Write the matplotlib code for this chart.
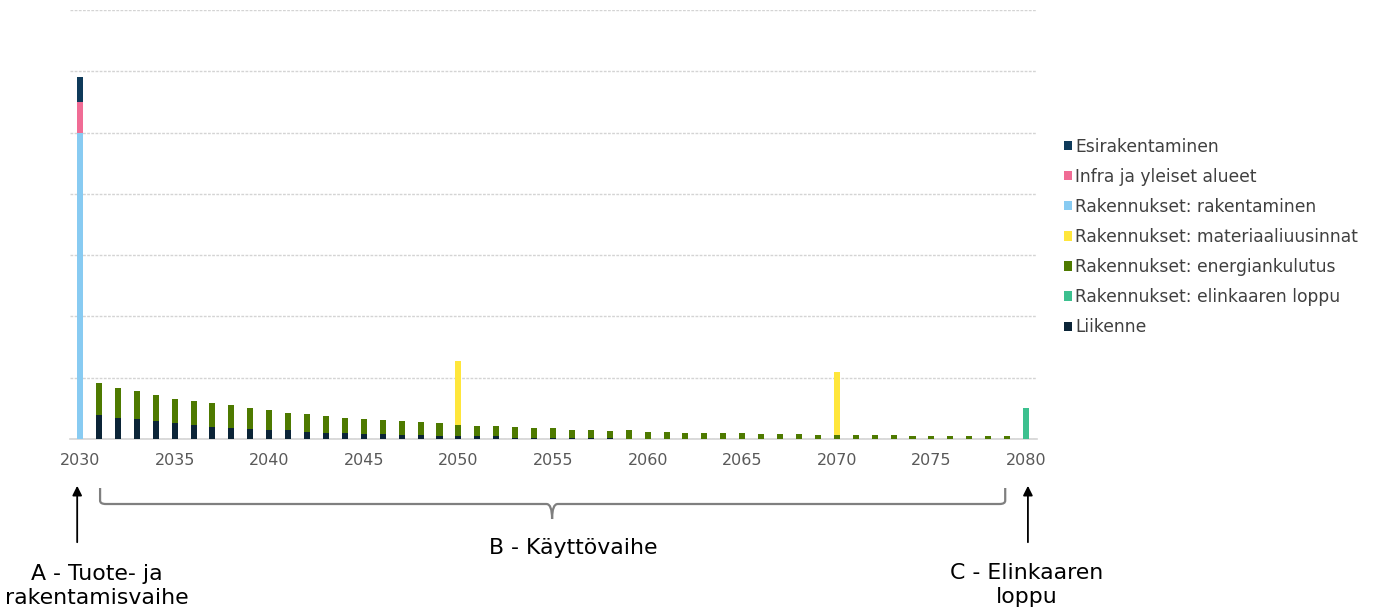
"""Päästöjen elinkaarikaavio (pinottu pylväs) vuosille 2030-2080."""

import matplotlib
matplotlib.use("Agg")
import matplotlib.pyplot as plt
import numpy as np
from matplotlib.path import Path
from matplotlib.patches import PathPatch

years = list(range(2030, 2081))

# arvot luettu kuvasta, yksikkönä yksi ruudukon väli
liikenne = [0.0, 0.39, 0.35, 0.32, 0.29, 0.26, 0.23, 0.19, 0.18, 0.16,
            0.14, 0.14, 0.12, 0.10, 0.10, 0.08, 0.08, 0.06, 0.06, 0.045,
            0.045, 0.045, 0.045, 0.022, 0.022, 0.022, 0.022, 0.022, 0.022, 0.0,
            0.0, 0.0, 0.0, 0.0, 0.0, 0.0, 0.0, 0.0, 0.0, 0.0,
            0.0, 0.0, 0.0, 0.0, 0.0, 0.0, 0.0, 0.0, 0.0, 0.0,
            0.0]
energiankulutus = [0.0, 0.53, 0.49, 0.46, 0.43, 0.40, 0.39, 0.39, 0.37, 0.35,
                   0.33, 0.29, 0.29, 0.27, 0.25, 0.25, 0.23, 0.23, 0.22, 0.21,
                   0.19, 0.17, 0.17, 0.17, 0.15, 0.15, 0.13, 0.13, 0.11, 0.14,
                   0.11, 0.11, 0.10, 0.10, 0.10, 0.10, 0.08, 0.08, 0.08, 0.06,
                   0.06, 0.06, 0.06, 0.06, 0.045, 0.045, 0.045, 0.045, 0.045, 0.045,
                   0.0]
elinkaaren_loppu = {2080: 0.50}
materiaaliuusinnat = {2050: 1.03, 2070: 1.03}
rakentaminen = {2030: 5.0}
infra = {2030: 0.50}
esirakentaminen = {2030: 0.40}

# pinoamisjärjestys alhaalta ylös, selite käänteisenä
series = [
    ("Liikenne", liikenne, "#0b2437"),
    ("Rakennukset: elinkaaren loppu", elinkaaren_loppu, "#3cc08f"),
    ("Rakennukset: energiankulutus", energiankulutus, "#4e7a00"),
    ("Rakennukset: materiaaliuusinnat", materiaaliuusinnat, "#ffe63b"),
    ("Rakennukset: rakentaminen", rakentaminen, "#88cbf2"),
    ("Infra ja yleiset alueet", infra, "#f06c95"),
    ("Esirakentaminen", esirakentaminen, "#0e3a5a"),
]

W, H = 1376, 607
fig = plt.figure(figsize=(W / 100, H / 100), dpi=100)
ax = fig.add_axes([70 / W, 1 - 439 / H, (1037 - 70) / W, (439 - 10) / H])

x = np.array(years)
bottom = np.zeros(len(years))
handles = []
for name, vals, color in series:
    if isinstance(vals, dict):
        vals = [vals.get(y, 0.0) for y in years]
    vals = np.array(vals)
    bars = ax.bar(x, vals, width=0.32, bottom=bottom, color=color, label=name, zorder=3)
    handles.append(bars)
    bottom += vals

ax.set_xlim(2029.47, 2080.58)
ax.set_ylim(0, 7)
ax.set_yticks(range(0, 8))
ax.yaxis.grid(True, color="#d4d4d4", linewidth=1, linestyle=(0, (2, 1)), zorder=0)
ax.tick_params(axis="y", left=False, labelleft=False)
ax.set_xticks(range(2030, 2081, 5))
ax.tick_params(axis="x", length=0, pad=10, labelsize=11.5, labelcolor="#595959")
for side in ["top", "right", "left"]:
    ax.spines[side].set_visible(False)
ax.spines["bottom"].set_color("#d4d4d4")
ax.spines["bottom"].set_linewidth(1.2)

leg = fig.legend(handles[::-1], [s[0] for s in series][::-1],
                 loc="center left", bbox_to_anchor=(1064 / W, 1 - 237 / H),
                 frameon=False, fontsize=12.3, handlelength=0.47, handleheight=0.47,
                 handletextpad=0.2, labelspacing=0.71, borderpad=0, borderaxespad=0)
for t in leg.get_texts():
    t.set_color("#404040")

# vaiheiden merkinnät kaavion alla
trans = ax.get_xaxis_transform()
def fy(p):
    return (439 - p) / 429

arrow = dict(arrowstyle="-|>", color="black", lw=1.3, mutation_scale=14)
ax.annotate("", xy=(2029.85, fy(483)), xytext=(2029.85, fy(545)), xycoords=trans,
            textcoords=trans, arrowprops=arrow, annotation_clip=False)
ax.annotate("", xy=(2080.1, fy(483)), xytext=(2080.1, fy(545)), xycoords=trans,
            textcoords=trans, arrowprops=arrow, annotation_clip=False)

xl, xr, xc = 2031.06, 2078.9, 2054.95
yt, yl, ytip = fy(488), fy(504), fy(519)
r = 0.3
verts = [(xl, yt), (xl, yl + 0.008), (xl, yl), (xl + r, yl),
         (xc - r, yl), (xc, yl), (xc, ytip),
         (xc, yl), (xc + r, yl),
         (xr - r, yl), (xr, yl), (xr, yl + 0.008), (xr, yt)]
codes = [Path.MOVETO, Path.LINETO, Path.CURVE3, Path.CURVE3,
         Path.LINETO, Path.CURVE3, Path.CURVE3,
         Path.CURVE3, Path.CURVE3,
         Path.LINETO, Path.CURVE3, Path.CURVE3, Path.LINETO]
brace = PathPatch(Path(verts, codes), facecolor="none", edgecolor="#7f7f7f",
                  lw=1.6, transform=trans, clip_on=False)
ax.add_patch(brace)

txt = dict(transform=trans, ha="center", va="center", fontsize=15.8, color="black",
           clip_on=False, linespacing=1.22)
ax.text(2030.9, fy(586), "A - Tuote- ja\nrakentamisvaihe", **txt)
ax.text(2056.06, fy(548), "B - Käyttövaihe", **txt)
ax.text(2080.05, fy(585), "C - Elinkaaren\nloppu", **txt)

fig.savefig("out.png", dpi=100)
